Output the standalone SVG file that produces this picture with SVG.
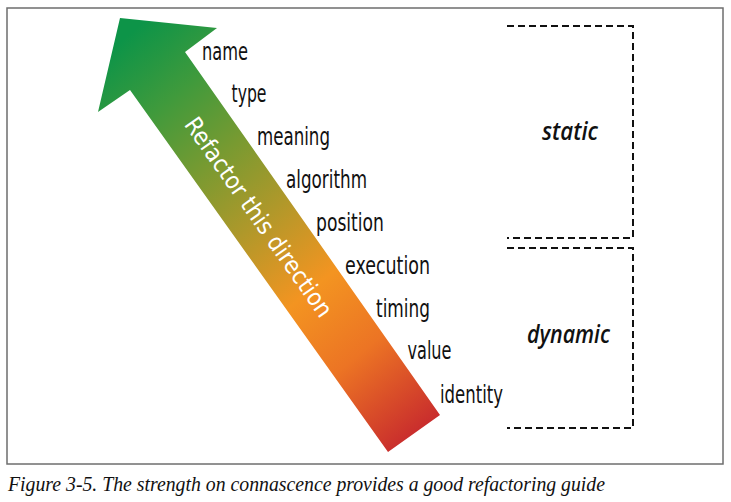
<svg xmlns="http://www.w3.org/2000/svg" width="731" height="502" viewBox="0 0 731 502">
  <style>
    .lbl { font-family: "Liberation Sans Narrow", "DejaVu Sans Condensed", "Open Sans", sans-serif; font-size: 24px; fill: #111; }
    .grp { font-family: "Open Sans", "Noto Sans", sans-serif; font-size: 25px; font-style: italic; font-weight: 600; fill: #111; }
    .dash { fill: none; stroke: #111; stroke-width: 2; stroke-dasharray: 7 4; }
    .cap { font-family: "Liberation Serif", serif; font-style: italic; font-size: 20px; fill: #111; }
  </style>
  <defs>
    <linearGradient id="grad" gradientUnits="userSpaceOnUse" x1="110" y1="50" x2="430" y2="440">
      <stop offset="0" stop-color="#0d9448"/>
      <stop offset="0.15" stop-color="#3f9a3c"/>
      <stop offset="0.3" stop-color="#789a31"/>
      <stop offset="0.45" stop-color="#b0982a"/>
      <stop offset="0.62" stop-color="#f39421"/>
      <stop offset="0.78" stop-color="#ec7424"/>
      <stop offset="1" stop-color="#c4232e"/>
    </linearGradient>
  </defs>
  <rect x="0" y="0" width="731" height="502" fill="#fff"/>
  <rect x="7" y="8" width="716" height="456" fill="none" stroke="#6e6e6e" stroke-width="1.5"/>

  <g id="arrow">
    <polygon points="120,18 217,28 185,52 440,415 388,452 130,90 98,112" fill="url(#grad)"/>
    <text class="lbl" transform="translate(259,217) rotate(54.9)" text-anchor="middle" y="8.5" font-size="25" style="fill:#fff" textLength="238" lengthAdjust="spacingAndGlyphs">Refactor this direction</text>
  </g>

  <g id="labels">
    <g id="name"><text class="lbl" x="202" y="60" textLength="46" lengthAdjust="spacingAndGlyphs">name</text></g>
    <g id="type"><text class="lbl" x="231.5" y="102" textLength="35" lengthAdjust="spacingAndGlyphs">type</text></g>
    <g id="meaning"><text class="lbl" x="257" y="145" textLength="73" lengthAdjust="spacingAndGlyphs">meaning</text></g>
    <g id="algorithm"><text class="lbl" x="286" y="188" textLength="81" lengthAdjust="spacingAndGlyphs">algorithm</text></g>
    <g id="position"><text class="lbl" x="316" y="231" textLength="68" lengthAdjust="spacingAndGlyphs">position</text></g>
    <g id="execution"><text class="lbl" x="345" y="274" textLength="85" lengthAdjust="spacingAndGlyphs">execution</text></g>
    <g id="timing"><text class="lbl" x="376" y="317" textLength="54" lengthAdjust="spacingAndGlyphs">timing</text></g>
    <g id="value"><text class="lbl" x="407.5" y="359" textLength="44" lengthAdjust="spacingAndGlyphs">value</text></g>
    <g id="identity"><text class="lbl" x="440" y="403" textLength="63" lengthAdjust="spacingAndGlyphs">identity</text></g>
  </g>

  <g id="static">
    <polyline class="dash" points="507,26 633,26 633,238 507,238"/>
    <text class="grp" x="542" y="140" textLength="56" lengthAdjust="spacingAndGlyphs">static</text>
  </g>
  <g id="dynamic">
    <polyline class="dash" points="507,248 633,248 633,428 507,428"/>
    <text class="grp" x="527" y="343" textLength="83" lengthAdjust="spacingAndGlyphs">dynamic</text>
  </g>

  <text class="cap" x="8" y="491" textLength="597" lengthAdjust="spacingAndGlyphs">Figure 3-5. The strength on connascence provides a good refactoring guide</text>
</svg>
